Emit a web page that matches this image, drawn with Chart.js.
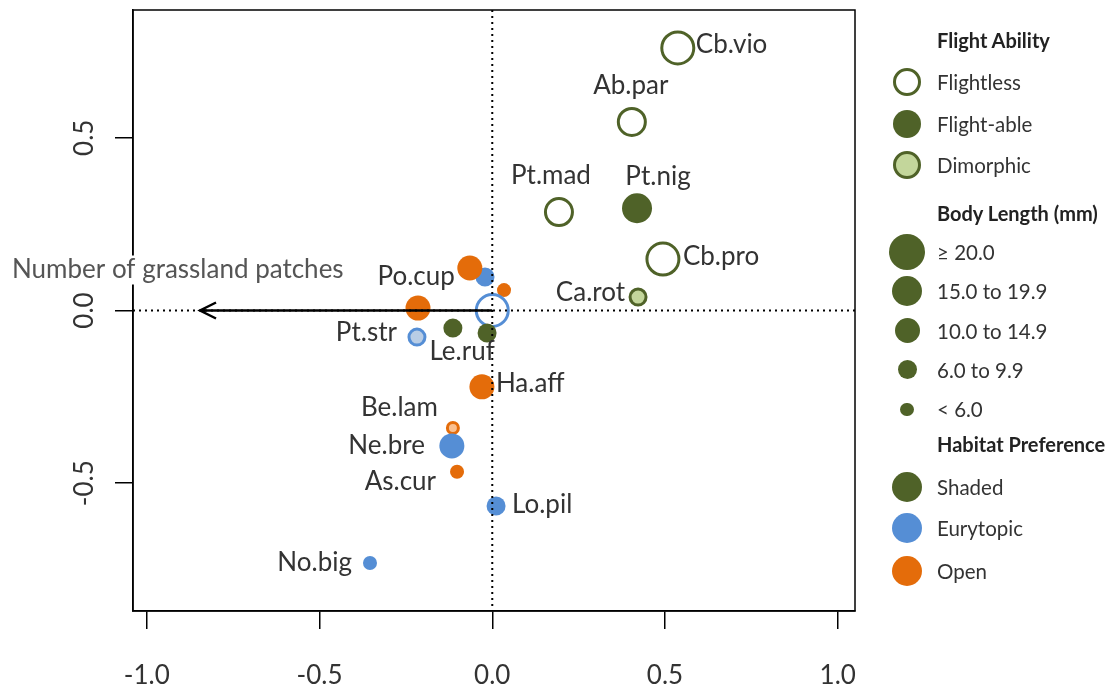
<!DOCTYPE html>
<html>
<head>
<meta charset="utf-8">
<script src="https://cdn.jsdelivr.net/npm/chart.js@4.4.0/dist/chart.umd.min.js"></script>
<style>
  body { margin: 0; background: #fff; }
  #contenedor { position: relative; width: 1113px; height: 686px; }
  #leyenda { position: absolute; left: 0; top: 0; width: 1113px; height: 686px; pointer-events: none; font-family: Lato, sans-serif; }
  .ley-titulo { position: absolute; left: 937px; font-size: 20px; font-weight: 700; color: #222; transform: translateY(-50%); white-space: nowrap; }
  .ley-texto { position: absolute; left: 937px; font-size: 20.5px; color: #333; transform: translateY(-50%); white-space: nowrap; }
  .ley-punto { position: absolute; border-radius: 50%; box-sizing: border-box; }
</style>
</head>
<body>
<div id="contenedor">
  <canvas id="graficoOrdenacion" width="1113" height="686"></canvas>
  <div id="leyenda"></div>
</div>
<script>
// Especies (cadena vacía = punto sin etiqueta en la figura)
const especies = ['Cb.vio', 'Ab.par', 'Pt.mad', 'Pt.nig', 'Cb.pro', 'Ca.rot', '', 'Po.cup', '', '',
                  '', '', 'Le.ruf', 'Pt.str', 'Ha.aff', 'Be.lam', 'Ne.bre', 'As.cur', 'Lo.pil', 'No.big'];
// Coordenadas de ordenación (eje 1, eje 2)
const eje1 = [0.537, 0.404, 0.193, 0.419, 0.494, 0.422, -0.021, -0.065, 0.034, 0.0,
              -0.215, -0.114, -0.015, -0.218, -0.030, -0.114, -0.117, -0.102, 0.011, -0.354];
const eje2 = [0.760, 0.546, 0.285, 0.296, 0.149, 0.039, 0.097, 0.123, 0.059, 0.0,
              0.007, -0.051, -0.065, -0.077, -0.221, -0.340, -0.392, -0.467, -0.566, -0.731];
// Rasgos
const vuelo = ['Flightless', 'Flightless', 'Flightless', 'Flight-able', 'Flightless', 'Dimorphic', 'Flight-able', 'Flight-able', 'Flight-able', 'Flightless',
               'Flight-able', 'Flight-able', 'Flight-able', 'Dimorphic', 'Flight-able', 'Dimorphic', 'Flight-able', 'Flight-able', 'Flight-able', 'Flight-able'];
const talla = ['≥ 20.0', '15.0 to 19.9', '15.0 to 19.9', '15.0 to 19.9', '≥ 20.0', '6.0 to 9.9', '6.0 to 9.9', '10.0 to 14.9', '< 6.0', '≥ 20.0',
               '10.0 to 14.9', '6.0 to 9.9', '6.0 to 9.9', '6.0 to 9.9', '10.0 to 14.9', '< 6.0', '10.0 to 14.9', '< 6.0', '6.0 to 9.9', '< 6.0'];
const habitat = ['Shaded', 'Shaded', 'Shaded', 'Shaded', 'Shaded', 'Shaded', 'Eurytopic', 'Open', 'Open', 'Eurytopic',
                 'Open', 'Shaded', 'Shaded', 'Eurytopic', 'Open', 'Open', 'Eurytopic', 'Open', 'Eurytopic', 'Eurytopic'];

// Categorías de la leyenda
const catVuelo = ['Flightless', 'Flight-able', 'Dimorphic'];
const catTalla = ['≥ 20.0', '15.0 to 19.9', '10.0 to 14.9', '6.0 to 9.9', '< 6.0'];
const catHabitat = ['Shaded', 'Eurytopic', 'Open'];

// Marcas de los ejes
const ticksX = [-1.0, -0.5, 0.0, 0.5, 1.0];
const ticksY = [-0.5, 0.0, 0.5];

// Vector ambiental
const vectorNombre = 'Number of grassland patches';
const vectorX = -0.846;
const vectorY = 0.0;

// Estilos
const colorHabitat = { Shaded: '#4f6228', Eurytopic: '#558ed5', Open: '#e46c0a' };
const colorClaro = { Shaded: '#c3d69b', Eurytopic: '#b9cde5', Open: '#fac090' };
const radioTalla = { '≥ 20.0': 17.5, '15.0 to 19.9': 15, '10.0 to 14.9': 12.5, '6.0 to 9.9': 9.5, '< 6.0': 7 };
const grosorAnillo = 3;

// Colocación de las etiquetas: [alineación, dx, dy] en píxeles respecto al punto
const posEtiqueta = {
    'Cb.vio': ['left', 18, -3], 'Ab.par': ['center', -1, -36], 'Pt.mad': ['center', -8, -36],
    'Pt.nig': ['center', 21, -32], 'Cb.pro': ['left', 20, -2], 'Ca.rot': ['right', -13, -4],
    'Po.cup': ['right', -15, 9], 'Pt.str': ['right', -20, -4], 'Le.ruf': ['center', -25, 19],
    'Ha.aff': ['left', 14, -3], 'Be.lam': ['right', -15, -20], 'Ne.bre': ['right', -27, 0],
    'As.cur': ['right', -21, 10], 'Lo.pil': ['left', 16, -1], 'No.big': ['right', -18, 0]
};

const fuente = 'Lato, sans-serif';

function esAnillo(i) { return vuelo[i] !== 'Flight-able'; }

const puntos = eje1.map((x, i) => ({ x: x, y: eje2[i] }));
const radios = talla.map((t, i) => esAnillo(i) ? radioTalla[t] - grosorAnillo / 2 : radioTalla[t]);
const rellenos = vuelo.map((v, i) => v === 'Flightless' ? '#ffffff' : (v === 'Dimorphic' ? colorClaro[habitat[i]] : colorHabitat[habitat[i]]));
const bordes = habitat.map(h => colorHabitat[h]);
const grosores = vuelo.map((v, i) => esAnillo(i) ? grosorAnillo : 0);

// Plugin: marco, líneas punteadas, vector, etiquetas
const pluginDibujo = {
    id: 'dibujoExtra',
    afterDatasetsDraw(chart) {
        const ctx = chart.ctx;
        const a = chart.chartArea;
        const sx = chart.scales.x, sy = chart.scales.y;
        const x0 = sx.getPixelForValue(0), y0 = sy.getPixelForValue(0);
        ctx.save();

        // marco
        ctx.strokeStyle = '#000';
        ctx.lineWidth = 1.5;
        ctx.strokeRect(a.left, a.top, a.right - a.left, a.bottom - a.top);

        // líneas punteadas en cero
        ctx.setLineDash([2, 4]);
        ctx.lineWidth = 2;
        ctx.beginPath();
        ctx.moveTo(x0, a.top); ctx.lineTo(x0, a.bottom);
        ctx.moveTo(a.left, y0); ctx.lineTo(a.right, y0);
        ctx.stroke();
        ctx.setLineDash([]);

        // flecha del vector
        const xf = sx.getPixelForValue(vectorX), yf = sy.getPixelForValue(vectorY);
        ctx.lineWidth = 2.5;
        ctx.beginPath();
        ctx.moveTo(x0, y0); ctx.lineTo(xf, yf);
        ctx.moveTo(xf + 16, yf - 8); ctx.lineTo(xf, yf); ctx.lineTo(xf + 16, yf + 8);
        ctx.stroke();

        // etiquetas de marcas del eje Y (giradas)
        ctx.fillStyle = '#333';
        ctx.font = '26px ' + fuente;
        ctx.textAlign = 'center';
        ctx.textBaseline = 'middle';
        ticksY.forEach(v => {
            ctx.save();
            ctx.translate(85, sy.getPixelForValue(v));
            ctx.rotate(-Math.PI / 2);
            ctx.fillText(v.toFixed(1), 0, 0);
            ctx.restore();
        });

        // etiquetas de especies
        const meta = chart.getDatasetMeta(0);
        ctx.font = '26px ' + fuente;
        ctx.fillStyle = '#333';
        especies.forEach((nombre, i) => {
            if (!nombre) return;
            const p = meta.data[i];
            const pos = posEtiqueta[nombre];
            ctx.textAlign = pos[0];
            ctx.fillText(nombre, p.x + pos[1], p.y + pos[2]);
        });

        // nombre del vector con fondo blanco
        ctx.font = '26px ' + fuente;
        ctx.textAlign = 'left';
        ctx.textBaseline = 'alphabetic';
        const ancho = ctx.measureText(vectorNombre).width;
        const tx = 12, ty = yf - 33;
        ctx.fillStyle = '#fff';
        ctx.fillRect(tx - 2, ty - 22, ancho + 4, 29);
        ctx.fillStyle = '#555';
        ctx.fillText(vectorNombre, tx, ty);

        ctx.restore();
    }
};

const ctx = document.getElementById('graficoOrdenacion').getContext('2d');
const grafico = new Chart(ctx, {
    type: 'scatter',
    data: {
        datasets: [{
            data: puntos,
            pointRadius: radios,
            pointHoverRadius: radios,
            pointBackgroundColor: rellenos,
            pointBorderColor: bordes,
            pointBorderWidth: grosores,
            pointHoverBorderWidth: grosores
        }]
    },
    options: {
        responsive: false,
        animation: false,
        events: [],
        layout: { autoPadding: false, padding: { left: 0, top: 10, right: 258, bottom: 0 } },
        plugins: { legend: { display: false }, tooltip: { enabled: false } },
        scales: {
            x: {
                type: 'linear',
                min: -1.04,
                max: 1.05,
                afterBuildTicks: s => { s.ticks = ticksX.map(v => ({ value: v })); },
                afterFit: s => { s.height = 75; },
                grid: { display: true, drawOnChartArea: false, drawTicks: true, tickLength: 18, color: '#000', lineWidth: 1.5 },
                border: { display: true, color: '#000', width: 1.5 },
                ticks: { font: { family: fuente, size: 26 }, color: '#333', padding: 31, maxRotation: 0, callback: v => v.toFixed(1) }
            },
            y: {
                type: 'linear',
                min: -0.87,
                max: 0.87,
                afterBuildTicks: s => { s.ticks = ticksY.map(v => ({ value: v })); },
                afterFit: s => { s.width = 133; },
                grid: { display: true, drawOnChartArea: false, drawTicks: true, tickLength: 18, color: '#000', lineWidth: 1.5 },
                border: { display: true, color: '#000', width: 1.5 },
                ticks: { display: false }
            }
        }
    },
    plugins: [pluginDibujo]
});

// Leyenda en HTML
const leyenda = document.getElementById('leyenda');
function titulo(texto, y) {
    const d = document.createElement('div');
    d.className = 'ley-titulo';
    d.style.top = y + 'px';
    d.textContent = texto;
    leyenda.appendChild(d);
}
function entrada(texto, y, r, relleno, borde, grosor) {
    const c = document.createElement('div');
    c.className = 'ley-punto';
    c.style.left = (907 - r) + 'px';
    c.style.top = (y - r) + 'px';
    c.style.width = c.style.height = (2 * r) + 'px';
    c.style.background = relleno;
    if (grosor) c.style.border = grosor + 'px solid ' + borde;
    leyenda.appendChild(c);
    const t = document.createElement('div');
    t.className = 'ley-texto';
    t.style.top = y + 'px';
    t.textContent = texto;
    leyenda.appendChild(t);
}
const verde = colorHabitat.Shaded;
titulo('Flight Ability', 40);
catVuelo.forEach((v, k) => {
    const y = [82, 124, 165][k];
    if (v === 'Flightless') entrada(v, y, 14, '#fff', verde, 3);
    else if (v === 'Dimorphic') entrada(v, y, 14, colorClaro.Shaded, verde, 3);
    else entrada(v, y, 14, verde, verde, 0);
});
titulo('Body Length (mm)', 213);
catTalla.forEach((t, k) => {
    const rLey = [18, 15, 12.5, 9.5, 6.7][k];
    entrada(t, 252 + k * 39.3, rLey, verde, verde, 0);
});
titulo('Habitat Preference', 444);
catHabitat.forEach((h, k) => {
    entrada(h, [487, 528, 571][k], 15, colorHabitat[h], colorHabitat[h], 0);
});
</script>
</body>
</html>
